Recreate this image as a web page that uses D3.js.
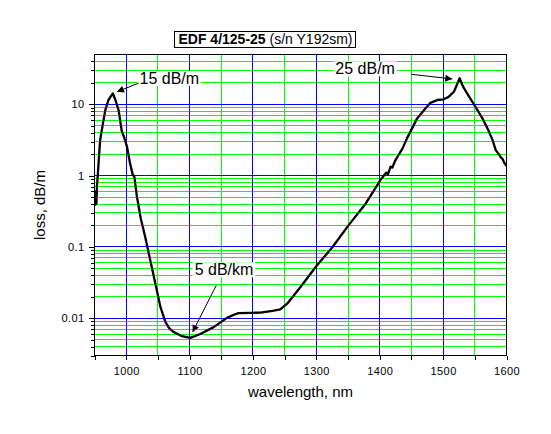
<!DOCTYPE html>
<html lang="en">
<head>
<meta charset="utf-8">
<script src="https://d3js.org/d3.v7.min.js"></script>
<style>
  body { margin: 0; background: #fff; }
  text { font-family: "Liberation Sans", Arial, sans-serif; }
</style>
</head>
<body>
<svg id="main" width="551" height="434"></svg>
<script>
// wavelength in nm, loss in dB/m
const wavelength = [951, 952, 953, 954, 955, 957, 959, 963, 967, 972, 976, 979, 983, 988, 993, 997,
  1001, 1006, 1010, 1013, 1017, 1019, 1023, 1030, 1038, 1046, 1054, 1062, 1068, 1075, 1088,
  1101, 1117, 1138, 1159, 1170, 1177, 1196, 1212, 1231, 1243, 1254, 1275, 1301, 1325, 1351,
  1378, 1401, 1410, 1413, 1417, 1420, 1424, 1428, 1432, 1436, 1443, 1451, 1459, 1470, 1480,
  1491, 1501, 1509, 1517, 1522, 1526, 1530, 1533, 1541, 1551, 1562, 1570, 1578, 1583, 1586,
  1588, 1591, 1594, 1596, 1599, 1600];
const loss = [0.38, 0.6, 0.4, 0.75, 0.95, 1.8, 3.2, 5.2, 8.3, 11.5, 13, 14.2, 11.5, 8.3, 4.2, 3.4,
  2.6, 1.5, 1.05, 0.95, 0.5, 0.4, 0.25, 0.138, 0.065, 0.0306, 0.0144, 0.0088, 0.0072, 0.0064, 0.0056,
  0.0053, 0.006, 0.0075, 0.0101, 0.0112, 0.0118, 0.0119, 0.012, 0.0127, 0.0133, 0.016, 0.0274, 0.0553, 0.098, 0.202,
  0.407, 0.865, 1.1, 1.05, 1.33, 1.3, 1.6, 1.84, 2.1, 2.41, 3.33, 4.6, 6.35, 8.3, 10.5,
  11.5, 11.75, 12.8, 15, 19, 23.2, 19, 16.8, 12.8, 9.25, 6.35, 4.6, 3.16, 2.28, 2.1,
  2.0, 1.8, 1.7, 1.55, 1.4, 1.5];

const xMajor = [1000, 1100, 1200, 1300, 1400, 1500, 1600];
const xMinor = [950, 1050, 1150, 1250, 1350, 1450, 1550];
const yMajor = [0.01, 0.1, 1, 10];
const yMinor = [0.003, 0.004, 0.005, 0.006, 0.007, 0.008, 0.009,
  0.02, 0.03, 0.04, 0.05, 0.06, 0.07, 0.08, 0.09,
  0.2, 0.3, 0.4, 0.5, 0.6, 0.7, 0.8, 0.9,
  2, 3, 4, 5, 6, 7, 8, 9, 20, 30, 40];
const yLabels = ['0.01', '0.1', '1', '10'];

const notes = [
  {text: '15 dB/m', x: 1021, y: 19.3, from: [1019.5, 19.8], to: [985.4, 15.0]},
  {text: '25 dB/m', x: 1330, y: 26.4, from: [1449.7, 26.4], to: [1514.4, 22.7]},
  {text: '5 dB/km', x: 1108, y: 0.0401, from: [1142.2, 0.029], to: [1104.8, 0.0064]}
];

let svg = d3.select('svg#main');
let pLeft = 94.5, pRight = 506.5, pTop = 54.5, pBottom = 355.5;

let x = d3.scaleLinear().domain([950, 1600]).range([pLeft, pRight]);
let y = d3.scaleLog().domain([0.003, 50]).range([pBottom, pTop]);

// grid
let grid = svg.append('g').attr('shape-rendering', 'crispEdges');
grid.selectAll('.gx').data(xMinor.slice(1)).enter().append('line')
  .attr('x1', d => x(d)).attr('x2', d => x(d)).attr('y1', pTop).attr('y2', pBottom)
  .attr('stroke', '#00ff00');
grid.selectAll('.gy').data(yMinor).enter().append('line')
  .attr('x1', pLeft).attr('x2', pRight).attr('y1', d => y(d)).attr('y2', d => y(d))
  .attr('stroke', '#00ff00');
grid.selectAll('.bx').data(xMajor.slice(0, -1)).enter().append('line')
  .attr('x1', d => x(d)).attr('x2', d => x(d)).attr('y1', pTop).attr('y2', pBottom)
  .attr('stroke', '#0000ff');
grid.selectAll('.by').data(yMajor).enter().append('line')
  .attr('x1', pLeft).attr('x2', pRight).attr('y1', d => y(d)).attr('y2', d => y(d))
  .attr('stroke', '#0000ff');

// curve
svg.append('clipPath').attr('id', 'clip').append('rect')
  .attr('x', pLeft).attr('y', pTop).attr('width', pRight - pLeft).attr('height', pBottom - pTop);

let line = d3.line().x(d => x(d[0])).y(d => y(d[1]));
svg.append('path')
  .datum(wavelength.map((w, i) => [w, loss[i]]))
  .attr('clip-path', 'url(#clip)')
  .attr('fill', 'none').attr('stroke', '#000').attr('stroke-width', 2.3)
  .attr('stroke-linejoin', 'round')
  .attr('d', line);

// frame
svg.append('rect').attr('x', pLeft).attr('y', pTop)
  .attr('width', pRight - pLeft).attr('height', pBottom - pTop)
  .attr('fill', 'none').attr('stroke', '#000').attr('shape-rendering', 'crispEdges');

// axes
let xAxis = svg.append('g').attr('transform', 'translate(0,' + pBottom + ')')
  .call(d3.axisBottom(x).tickValues(xMajor.concat(xMinor)).tickSize(4)
    .tickFormat(d => xMajor.includes(d) ? d : ''));
let yAxisMinor = svg.append('g').attr('transform', 'translate(' + pLeft + ',0)')
  .call(d3.axisLeft(y).tickValues(yMinor).tickSize(4).tickFormat(''));
let yAxis = svg.append('g').attr('transform', 'translate(' + pLeft + ',0)')
  .call(d3.axisLeft(y).tickValues(yMajor).tickSize(6).tickPadding(4)
    .tickFormat((d, i) => yLabels[i]));

[xAxis, yAxis, yAxisMinor].forEach(g => {
  g.select('.domain').remove();
  g.selectAll('line').attr('stroke', '#000').attr('shape-rendering', 'crispEdges');
  g.selectAll('text').attr('fill', '#000').style('font-size', '11px')
    .style('letter-spacing', '0.4px').style('font-family', '"Liberation Sans", Arial, sans-serif');
});
xAxis.selectAll('text').attr('dy', '0').attr('y', 19);

// axis titles
svg.append('text').attr('x', (pLeft + pRight) / 2).attr('y', 397)
  .attr('text-anchor', 'middle').style('font-size', '15px').text('wavelength, nm');
svg.append('text')
  .attr('transform', 'translate(45,' + ((pTop + pBottom) / 2) + ') rotate(-90)')
  .attr('text-anchor', 'middle').style('font-size', '15px').text('loss, dB/m');

// title
let titleG = svg.append('g');
let title = titleG.append('text').attr('x', 265.5).attr('y', 44).attr('text-anchor', 'middle')
  .style('font-size', '14px');
title.append('tspan').style('font-weight', 'bold').text('EDF 4/125-25');
title.append('tspan').text(' (s/n Y192sm)');
let tb = title.node().getBBox();
titleG.insert('rect', 'text')
  .attr('x', Math.round(tb.x - 4) + 0.5).attr('y', 31.5)
  .attr('width', Math.round(tb.width + 7)).attr('height', 16)
  .attr('fill', '#fff').attr('stroke', '#000');

// annotations
svg.append('defs').append('marker')
  .attr('id', 'arrow').attr('viewBox', '0 0 10 10').attr('refX', 10).attr('refY', 5)
  .attr('markerWidth', 9).attr('markerHeight', 7).attr('markerUnits', 'userSpaceOnUse')
  .attr('orient', 'auto')
  .append('path').attr('d', 'M0,0 L10,5 L0,10 Z').attr('fill', '#000');

notes.forEach(n => {
  let g = svg.append('g');
  let t = g.append('text').attr('x', x(n.x)).attr('y', y(n.y))
    .style('font-size', '16px').attr('fill', '#000').text(n.text);
  let b = t.node().getBBox();
  g.insert('rect', 'text').attr('x', b.x - 2).attr('y', b.y + 1)
    .attr('width', b.width + 4).attr('height', b.height - 2).attr('fill', '#fff');
  svg.append('line')
    .attr('x1', x(n.from[0])).attr('y1', y(n.from[1]))
    .attr('x2', x(n.to[0])).attr('y2', y(n.to[1]))
    .attr('stroke', '#000').attr('stroke-width', 1)
    .attr('marker-end', 'url(#arrow)');
});
</script>
</body>
</html>
